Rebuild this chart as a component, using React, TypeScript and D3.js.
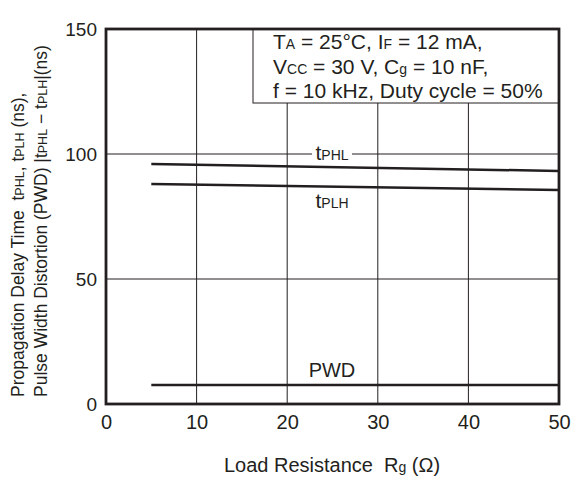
import * as React from "react";
import * as d3 from "d3";

// readings
const loadResistance = [5, 50];
const tPHL = [96, 93.2];
const tPLH = [88, 85.6];
const pwd = [7.6, 7.6];
const xTicks = [0, 10, 20, 30, 40, 50];
const yTicks = [0, 50, 100, 150];

const font = "'Liberation Sans', Arial, sans-serif";
const ink = "#231f20";

function Sub({ children, size }: { children: React.ReactNode; size: number }) {
	return <tspan fontSize={size}>{children}</tspan>;
}

export default function App() {
	const width = 571;
	const height = 477;
	const left = 106;
	const right = 559;
	const top = 29;
	const bottom = 404;

	const x = d3.scaleLinear([0, 50], [left, right]);
	const y = d3.scaleLinear([0, 150], [bottom, top]);

	const line = (vals: number[]) =>
		d3
			.line<number>()
			.x((_, i) => x(loadResistance[i]))
			.y((d) => y(d))(vals) || "";

	const gRef = React.useRef<SVGGElement>(null);
	React.useEffect(() => {
		const g = d3.select(gRef.current!);
		g.selectAll("*").remove();
		g.append("g")
			.attr("transform", `translate(0,${bottom})`)
			.call(d3.axisBottom(x).tickValues(xTicks).tickSize(0).tickPadding(11))
			.call((s) => s.select(".domain").remove())
			.selectAll("text")
			.attr("font-size", 20)
			.attr("font-family", font)
			.attr("fill", ink);
		g.append("g")
			.attr("transform", `translate(${left},0)`)
			.call(d3.axisLeft(y).tickValues(yTicks).tickSize(0).tickPadding(9))
			.call((s) => s.select(".domain").remove())
			.selectAll("text")
			.attr("font-size", 19)
			.attr("font-family", font)
			.attr("fill", ink);
	}, []);

	return (
		<svg
			width={width}
			height={height}
			style={{ position: "absolute", left: 0, top: 0 }}
			fontFamily={font}
		>
			<rect width={width} height={height} fill="white" />
			{/* grid */}
			{xTicks.slice(1, -1).map((t) => (
				<line key={t} x1={x(t)} x2={x(t)} y1={top} y2={bottom} stroke={ink} strokeWidth={1} />
			))}
			{yTicks.slice(1, -1).map((t) => (
				<line key={t} x1={left} x2={right} y1={y(t)} y2={y(t)} stroke={ink} strokeWidth={1} />
			))}
			{/* series */}
			<path d={line(tPHL)} fill="none" stroke={ink} strokeWidth={2.5} />
			<path d={line(tPLH)} fill="none" stroke={ink} strokeWidth={2.5} />
			<path d={line(pwd)} fill="none" stroke={ink} strokeWidth={2.5} />
			{/* series labels */}
			<rect x={312} y={y(100) - 6} width={40} height={12} fill="white" />
			<text x={332} y={160} fontSize={21} textAnchor="middle" fill={ink}>
				t<Sub size={14}>PHL</Sub>
			</text>
			<text x={332} y={208} fontSize={21} textAnchor="middle" fill={ink}>
				t<Sub size={14}>PLH</Sub>
			</text>
			<text x={332} y={377} fontSize={20} textAnchor="middle" fill={ink}>
				PWD
			</text>
			{/* conditions box */}
			<rect x={253} y={top} width={right - 253} height={74} fill="white" stroke={ink} strokeWidth={1} />
			<g fontSize={21} fill={ink}>
				<text x={273} y={49}>
					T<Sub size={14}>A</Sub> = 25°C, I<Sub size={14}>F</Sub> = 12 mA,
				</text>
				<text x={273} y={74}>
					V<Sub size={14}>CC</Sub> = 30 V, C<Sub size={14}>g</Sub> = 10 nF,
				</text>
				<text x={273} y={98}>
					f = 10 kHz, Duty cycle = 50%
				</text>
			</g>
			{/* frame */}
			<rect x={left} y={top} width={right - left} height={bottom - top} fill="none" stroke={ink} strokeWidth={2.8} />
			<g ref={gRef} />
			{/* axis titles */}
			<text x={332} y={472} fontSize={20} textAnchor="middle" fill={ink}>
				{"Load Resistance\u00a0 R"}
				<Sub size={14}>g</Sub>
				{" (Ω)"}
			</text>
			<g transform="translate(0,397) rotate(-90)" fontSize={17.5} fill={ink}>
				<text x={0} y={24}>
					{"Propagation Delay Time\u00a0 t"}
					<Sub size={12.5}>PHL</Sub>
					{", t"}
					<Sub size={12.5}>PLH</Sub>
					{" (ns),"}
				</text>
				<text x={0} y={47}>
					{"Pulse Width Distortion (PWD) |t"}
					<Sub size={12.5}>PHL</Sub>
					{" − t"}
					<Sub size={12.5}>PLH</Sub>
					{"|(ns)"}
				</text>
			</g>
		</svg>
	);
}
